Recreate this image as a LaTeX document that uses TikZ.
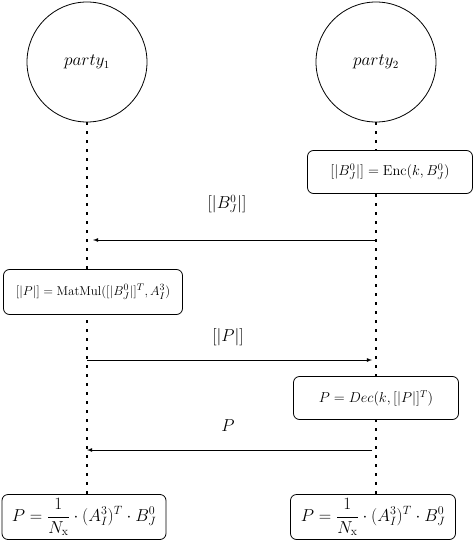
\documentclass[tikz,border=0pt]{standalone}
\usepackage{amsmath}
\usepackage{amssymb}
\usetikzlibrary{arrows,shapes,positioning,calc}
\tikzset{
    party/.style={draw,circle,line width=0.8pt,minimum size=120pt,inner sep=0pt,align=center,font=\fontsize{16}{19}\selectfont},
    stepbox/.style={draw,fill=white,rounded corners=6pt,line width=0.8pt,minimum height=43pt,align=center,font=\fontsize{14.5}{17}\selectfont},
    resbox/.style={draw,fill=white,rounded corners=6pt,line width=0.8pt,minimum height=45pt,align=center,font=\fontsize{16.5}{19}\selectfont},
    life/.style={line width=2.6pt,dash pattern=on 2.6pt off 6.4pt},
    msg/.style={-latex,line width=0.8pt},
    msglabel/.style={font=\fontsize{16}{19}\selectfont},
}
\begin{document}
\begin{tikzpicture}[x=1pt,y=-1pt]
                \useasboundingbox (0,0) rectangle (474,551);
                \node[party] (p1) at (87,62) {$party_1$};
                \node[party] (p2) at (376,62) {$party_2$};
                \coordinate (e1) at (87,497);
                \coordinate (e2) at (376,497);
                \draw[life] (p1.south) -- (e1);
                \draw[life] (p2.south) -- (e2);
                \node[stepbox,minimum width=165pt] (enc) at (390,172) {$[|B_J^0|]=\mathrm{Enc}(k,B_J^0)$};
                \node[stepbox,minimum width=179pt,minimum height=45pt,font=\fontsize{13}{16}\selectfont] (mul) at (93,292) {\scalebox{1.07}{$[|P|]=\mathrm{MatMul}([|B_J^0|]^T,A_I^3)$}};
                \node[stepbox,minimum width=165pt,font=\fontsize{13.7}{16}\selectfont] (dec) at (376,398) {$P=Dec(k,[|P|]^T)$};
                \node[resbox,minimum width=164pt] (r1) at (84,517) {$P=\dfrac{1}{N_{\mathrm{x}}}\cdot(A_I^3)^T\cdot B_J^0$};
                \node[resbox,minimum width=165pt] (r2) at (373,517) {$P=\dfrac{1}{N_{\mathrm{x}}}\cdot(A_I^3)^T\cdot B_J^0$};
                % messages
                \coordinate (a2) at (376,240);
                \coordinate (a1) at (93,240);
                \coordinate (b1) at (87,360);
                \coordinate (b2) at (372,360);
                \coordinate (c2) at (372,450);
                \coordinate (c1) at (87,450);
                \draw[msg] (a2) -- (a1);
                \draw[msg] (b1) -- (b2);
                \draw[msg] (c2) -- (c1);
                \node[msglabel] (la) at (227,204) {$[|B_J^0|]$};
                \node[msglabel] (lb) at (228,337) {$[|P|]$};
                \node[msglabel] (lc) at (228,426) {$P$};
            \end{tikzpicture}
\end{document}
